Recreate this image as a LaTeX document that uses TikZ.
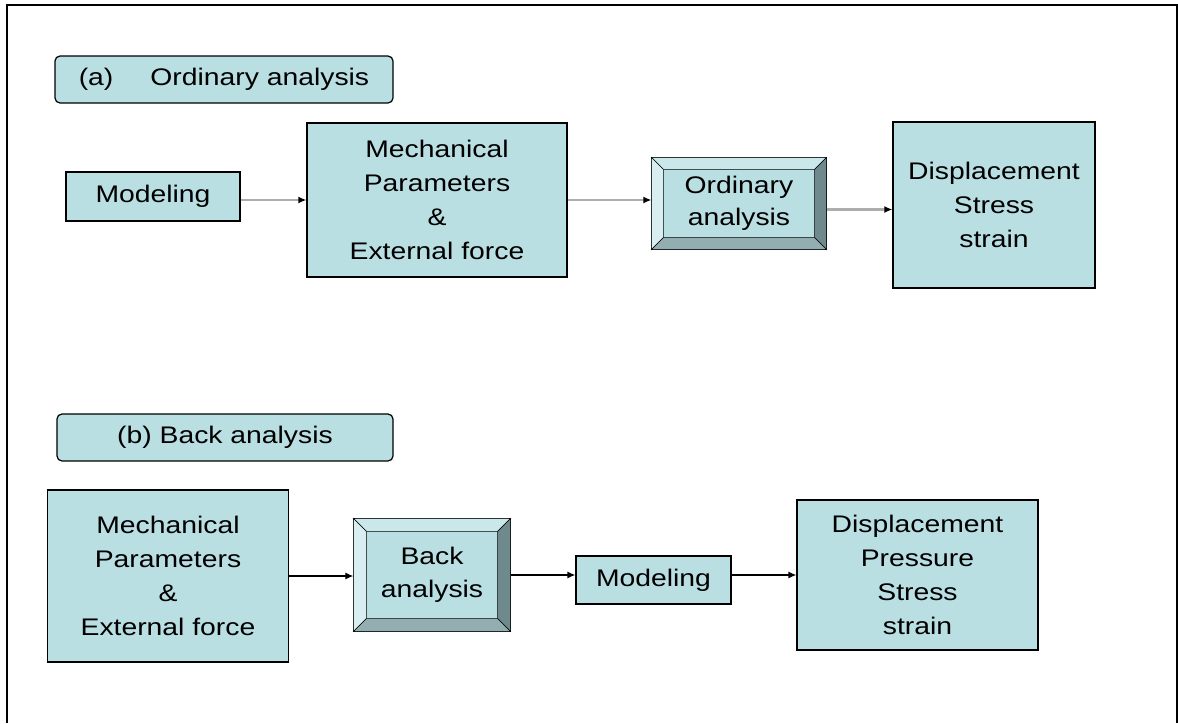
\documentclass[tikz,border=0pt]{standalone}
\usepackage{fontspec}
\setmainfont{Liberation Sans}[FakeStretch=1.18]
\usetikzlibrary{arrows.meta}
\definecolor{boxfill}{HTML}{B9DFE3}
\definecolor{bevleft}{HTML}{D8EEF0}
\definecolor{bevtop}{HTML}{CAE7EA}
\definecolor{bevright}{HTML}{6E8A8C}
\definecolor{bevbottom}{HTML}{93AEB0}
\definecolor{arrowgray}{HTML}{ADADAD}
\newcommand{\boxfont}{\fontsize{24}{34}\selectfont}
% bevel sides of a named box: #1 node, #2 depth
\newcommand{\bevelsides}[2]{%
  \coordinate (#1-a) at ([shift={(#2,-#2)}]#1.north west);
  \coordinate (#1-b) at ([shift={(-#2,-#2)}]#1.north east);
  \coordinate (#1-c) at ([shift={(-#2,#2)}]#1.south east);
  \coordinate (#1-d) at ([shift={(#2,#2)}]#1.south west);
  \filldraw[fill=bevtop] (#1.north west) -- (#1.north east) -- (#1-b) -- (#1-a) -- cycle;
  \filldraw[fill=bevleft] (#1.north west) -- (#1-a) -- (#1-d) -- (#1.south west) -- cycle;
  \filldraw[fill=bevright] (#1.north east) -- (#1.south east) -- (#1-c) -- (#1-b) -- cycle;
  \filldraw[fill=bevbottom] (#1.south west) -- (#1-d) -- (#1-c) -- (#1.south east) -- cycle;
}
\tikzset{
  plainbox/.style={draw, line width=1.2pt, fill=boxfill, align=center, font=\boxfont, inner sep=2pt},
  titlebox/.style={plainbox, rounded corners=5pt},
  bevelbox/.style={plainbox},
  grayflow/.style={draw=arrowgray, line width=2.8pt, -{Latex[length=8pt,width=7pt,black]}},
  blackflow/.style={draw=black, line width=1.3pt, -{Latex[length=8pt,width=7pt]}},
}
\begin{document}
\begin{tikzpicture}[x=1pt, y=-1pt]
  \useasboundingbox (0,0) rectangle (1178,723);
  \draw[line width=2pt] (7,723) -- (7,5) -- (1177,5) -- (1177,723);

  % (a) ordinary analysis
  \node[titlebox, minimum width=338pt, minimum height=47pt] (titleA) at (224,79.5) {(a)\hspace{37pt}Ordinary analysis};
  \node[plainbox, minimum width=174pt, minimum height=49pt] (modelA) at (153,196.5) {Modeling};
  \node[plainbox, minimum width=260pt, minimum height=154pt] (mechA) at (437,200) {Mechanical\\Parameters\\\&\\External force};
  \node[bevelbox, minimum width=174pt, minimum height=91pt] (ordA) at (739,203.5) {};
  \bevelsides{ordA}{12pt}
  \node[font=\fontsize{24}{32}\selectfont, align=center] (ordAtext) at (ordA) {Ordinary\\analysis};
  \node[plainbox, minimum width=202pt, minimum height=166pt] (dispA) at (994,205) {Displacement\\Stress\\strain};
  \draw[grayflow] (modelA.east |- mechA.west) -- (mechA.west);
  \draw[grayflow] (mechA.east) -- (mechA.east -| ordA.west);
  \draw[grayflow] ([yshift=-6pt]ordA.east) -- ([yshift=-6pt]ordA.east -| dispA.west);

  % (b) back analysis
  \node[titlebox, minimum width=336pt, minimum height=47pt] (titleB) at (225,437.5) {(b) Back analysis};
  \node[plainbox, minimum width=241pt, minimum height=172pt] (mechB) at (168,576) {Mechanical\\Parameters\\\&\\External force};
  \node[bevelbox, minimum width=156pt, minimum height=112pt] (backB) at (432,575) {};
  \bevelsides{backB}{13pt}
  \node[font=\fontsize{24}{33}\selectfont, align=center] (backBtext) at (backB) {Back\\analysis};
  \node[plainbox, minimum width=155pt, minimum height=48pt] (modelB) at (653.5,580) {Modeling};
  \node[plainbox, minimum width=241pt, minimum height=150pt] (dispB) at (917.5,575) {Displacement\\Pressure\\Stress\\strain};
  \draw[blackflow] (mechB.east) -- (mechB.east -| backB.west);
  \draw[blackflow] (backB.east) -- (backB.east -| modelB.west);
  \draw[blackflow] (modelB.east |- dispB.west) -- (dispB.west);
\end{tikzpicture}
\end{document}
